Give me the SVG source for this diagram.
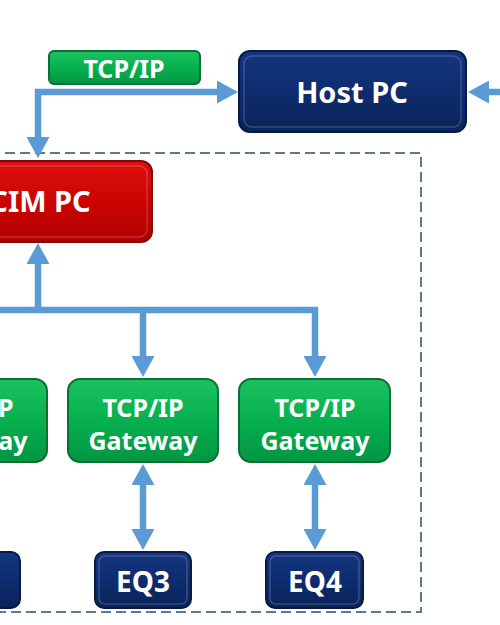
<svg xmlns="http://www.w3.org/2000/svg" width="500" height="625" viewBox="0 0 500 625">
<style>
.lbl{font-family:"Noto Sans","Open Sans","Liberation Sans",sans-serif;font-weight:bold;fill:#ffffff;text-anchor:middle}
.conn{fill:none;stroke:#5b9bd5;stroke-width:6.5;stroke-linejoin:miter}
.green{fill:url(#gGreen);stroke:#0b6e36;stroke-width:2}
.navy{fill:url(#gNavy);stroke:#061a48;stroke-width:2}
.red{fill:url(#gRed);stroke:#7d0a0a;stroke-width:2}
.hl{fill:none;stroke:#ffffff;stroke-opacity:0.18;stroke-width:1.5}
</style>
<defs>
<linearGradient id="gGreen" x1="0" y1="0" x2="0" y2="1">
<stop offset="0" stop-color="#1cc260"/><stop offset="0.5" stop-color="#06b04e"/><stop offset="1" stop-color="#039543"/>
</linearGradient>
<linearGradient id="gNavy" x1="0" y1="0" x2="0" y2="1">
<stop offset="0" stop-color="#143580"/><stop offset="0.5" stop-color="#0e2c6e"/><stop offset="1" stop-color="#0a2359"/>
</linearGradient>
<linearGradient id="gRed" x1="0" y1="0" x2="0" y2="1">
<stop offset="0" stop-color="#de1010"/><stop offset="0.5" stop-color="#cc0303"/><stop offset="1" stop-color="#b00000"/>
</linearGradient>
<marker id="ah" viewBox="0 0 21 23" refX="0" refY="11.5" markerWidth="21" markerHeight="23" markerUnits="userSpaceOnUse" orient="auto-start-reverse">
<path d="M0,0 L21,11.5 L0,23 Z" fill="#5b9bd5"/>
</marker>
</defs>
<rect width="500" height="625" fill="#ffffff"/>
<rect id="boundary" x="-100" y="153" width="521" height="459" fill="none" stroke="#5d7890" stroke-width="2" stroke-dasharray="10,5"/>
<g id="connectors">
<path class="conn" d="M38,137 V92 H217" marker-start="url(#ah)" marker-end="url(#ah)"/>
<path class="conn" d="M500,92 H489" marker-end="url(#ah)"/>
<path class="conn" d="M38,310 V264" marker-end="url(#ah)"/>
<path class="conn" d="M-10,310 H315 V356" marker-end="url(#ah)"/>
<path class="conn" d="M143,310 V356" marker-end="url(#ah)"/>
<path class="conn" d="M143,485 V529" marker-start="url(#ah)" marker-end="url(#ah)"/>
<path class="conn" d="M315,485 V529" marker-start="url(#ah)" marker-end="url(#ah)"/>
</g>
<g id="tcpip-tab">
<rect class="green" x="49" y="51" width="151" height="33" rx="5"/>
<text class="lbl" x="124" y="78" font-size="25">TCP/IP</text>
</g>
<g id="host-pc">
<rect class="navy" x="239" y="51" width="227" height="81" rx="11"/>
<rect class="hl" x="244" y="56" width="217" height="71" rx="8"/>
<text class="lbl" x="352" y="103" font-size="29">Host PC</text>
</g>
<g id="cim-pc">
<rect class="red" x="-72" y="161" width="224" height="81" rx="11"/>
<rect class="hl" x="-67" y="166" width="214" height="71" rx="8"/>
<text class="lbl" x="40" y="212" font-size="29">CIM PC</text>
</g>
<g id="gateway1">
<rect class="green" x="-102" y="379" width="149" height="83" rx="12"/>
<text class="lbl" x="-27" y="417" font-size="25">TCP/IP</text>
<text class="lbl" x="-27" y="450" font-size="25">Gateway</text>
</g>
<g id="gateway2">
<rect class="green" x="68" y="379" width="150" height="83" rx="12"/>
<text class="lbl" x="143" y="417" font-size="25">TCP/IP</text>
<text class="lbl" x="143" y="450" font-size="25">Gateway</text>
</g>
<g id="gateway3">
<rect class="green" x="239" y="379" width="151" height="83" rx="12"/>
<text class="lbl" x="315" y="417" font-size="25">TCP/IP</text>
<text class="lbl" x="315" y="450" font-size="25">Gateway</text>
</g>
<g id="eq2">
<rect class="navy" x="-75" y="552" width="95" height="56" rx="9"/>
</g>
<g id="eq3">
<rect class="navy" x="95" y="552" width="96" height="56" rx="9"/>
<rect class="hl" x="99" y="556" width="88" height="48" rx="6"/>
<text class="lbl" x="143" y="592" font-size="28">EQ3</text>
</g>
<g id="eq4">
<rect class="navy" x="266" y="552" width="97" height="56" rx="9"/>
<rect class="hl" x="270" y="556" width="89" height="48" rx="6"/>
<text class="lbl" x="315" y="592" font-size="28">EQ4</text>
</g>
</svg>
